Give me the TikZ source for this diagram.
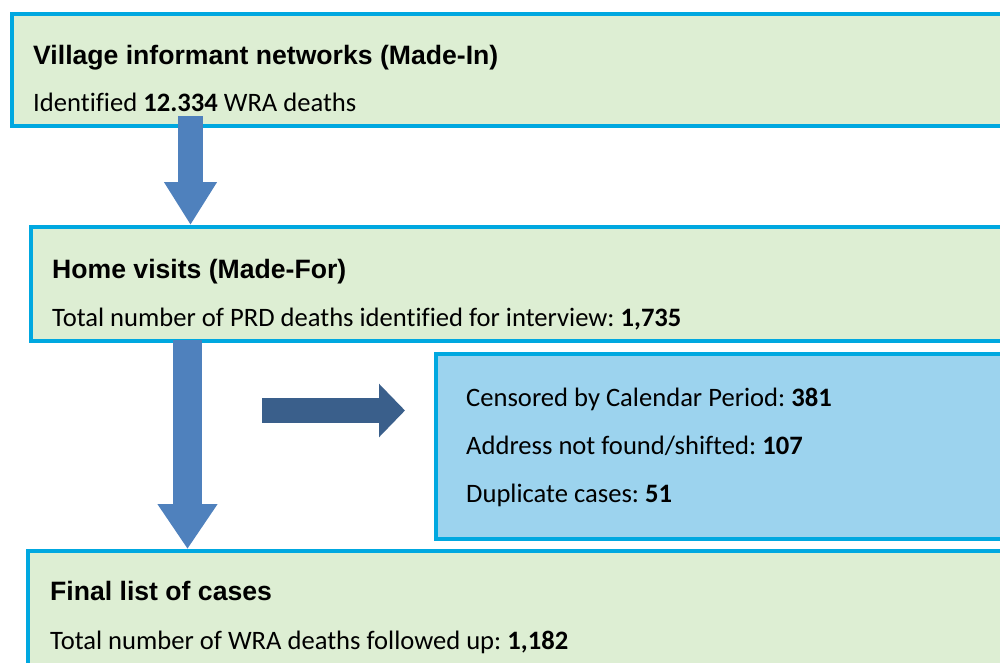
\documentclass[tikz,border=0pt]{standalone}
\usepackage{fontspec}
\setmainfont[Ligatures=NoCommon]{Carlito}
\newfontfamily\arialfont{Liberation Sans}
\usetikzlibrary{arrows.meta}
\frenchspacing
\definecolor{cyanline}{RGB}{0,168,224}
\definecolor{greenfill}{RGB}{221,238,211}
\definecolor{bluefill}{RGB}{156,211,238}
\definecolor{arrowblue}{RGB}{79,129,189}
\definecolor{arrowdark}{RGB}{58,95,139}
\tikzset{
  box/.style={draw=cyanline, line width=4pt, anchor=north west, inner sep=0pt, minimum width=1000pt},
  gbox/.style={box, fill=greenfill},
  bbox/.style={box, fill=bluefill},
  ttl/.style={anchor=base west, inner sep=0pt, font=\arialfont\bfseries\fontsize{26.6}{30}\selectfont},
  txt/.style={anchor=base west, inner sep=0pt, font=\fontsize{26.6}{30}\selectfont},
}
\begin{document}
\begin{tikzpicture}[x=1pt,y=-1pt]
\useasboundingbox (0,0) rectangle (1000,662);
\clip (0,0) rectangle (1000,662);
% boxes
\node[gbox, minimum height=112pt] (b1) at (10,12) {};
\node[gbox, minimum height=114pt] (b2) at (29,225) {};
\node[bbox, minimum height=185pt] (b4) at (434,352) {};
\node[gbox, minimum height=150pt] (b3) at (26,549) {};
% texts
\node[ttl] (t1) at (33,64) {Village informant networks (Made-In)};
\node[txt] (s1) at (33,111) {Identified \textbf{12.334} WRA deaths};
\node[ttl] (t2) at (52,278) {Home visits (Made-For)};
\node[txt] (s2) at (52,326) {Total number of PRD deaths identified for interview: \textbf{1,735}};
\node[txt] (c1) at (466,406) {Censored by Calendar Period: \textbf{381}};
\node[txt] (c2) at (466,454) {Address not found/shifted: \textbf{107}};
\node[txt] (c3) at (466,502) {Duplicate cases: \textbf{51}};
\node[ttl] (t3) at (50,600) {Final list of cases};
\node[txt] (s3) at (50,649) {Total number of WRA deaths followed up: \textbf{1,182}};
% arrows
\coordinate (a1s) at (190.5,116);
\coordinate (a2s) at (187.5,340);
\coordinate (h1) at (262,410.5);
\coordinate (h2) at (405,410.5);
\draw[arrowblue, line width=25pt, -{Triangle[width=50pt,length=43pt]}] (a1s) -- (a1s |- b2.north);
\draw[arrowblue, line width=29pt, -{Triangle[width=57pt,length=45pt]}] (a2s) -- (a2s |- b3.north);
\draw[arrowdark, line width=25pt, -{Triangle[width=52pt,length=26pt]}] (h1) -- (h2);
\end{tikzpicture}
\end{document}
